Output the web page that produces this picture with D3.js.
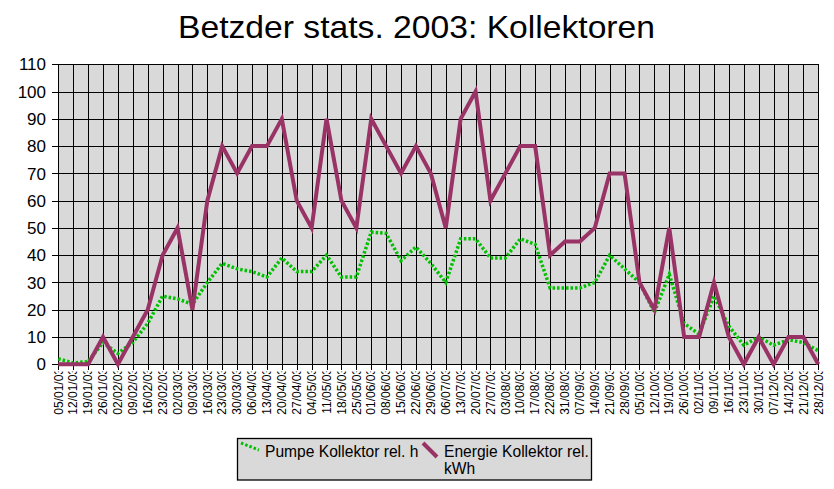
<!DOCTYPE html>
<html>
<head>
<meta charset="utf-8">
<script src="https://cdn.jsdelivr.net/npm/d3@7/dist/d3.min.js"></script>
<style>
  html, body { margin: 0; padding: 0; background: #fff; }
  svg { display: block; font-family: "Liberation Sans", Arial, sans-serif; }
</style>
</head>
<body>
<svg id="chart" width="834" height="489"></svg>
<script>
const dates = ["05/01/03","12/01/03","19/01/03","26/01/03","02/02/03","09/02/03","16/02/03","23/02/03",
  "02/03/03","09/03/03","16/03/03","23/03/03","30/03/03","06/04/03","13/04/03","20/04/03","27/04/03",
  "04/05/03","11/05/03","18/05/03","25/05/03","01/06/03","08/06/03","15/06/03","22/06/03","29/06/03",
  "06/07/03","13/07/03","20/07/03","27/07/03","03/08/03","10/08/03","17/08/03","22/08/03","31/08/03",
  "07/09/03","14/09/03","21/09/03","28/09/03","05/10/03","12/10/03","19/10/03","26/10/03",
  "02/11/03","09/11/03","16/11/03","23/11/03","30/11/03","07/12/03","14/12/03","21/12/03","28/12/03"];

const pumpe = [2,0.5,1,8,4,8,15,25,24,22,30,37,35,34,32,39,34,34,40,32,32,48.5,48,38,43,37,30,46,46,39,39,46,44,
  28,28,28,30,40,35,30,19,33,15,11,25,14,7,10,7,9,8,5];

const energie = [0,0,0,10,0,10,20,40,50,20,60,80,70,80,80,90,60,50,90,60,50,90,80,70,80,70,50,90,100,60,70,80,80,
  40,45,45,50,70,70,30,20,50,10,10,30,10,0,10,0,10,10,0];

const yTicks = [0,10,20,30,40,50,60,70,80,90,100,110];

const titleText = "Betzder stats. 2003: Kollektoren";
const legendPumpe = "Pumpe Kollektor rel. h";
const legendEnergie1 = "Energie Kollektor rel.";
const legendEnergie2 = "kWh";

const svg = d3.select("#chart");
const L = 58.3, R = 818.3, T = 64.3, B = 364.3;

const x = d3.scalePoint().domain(dates).range([L, R]);
const y = d3.scaleLinear().domain([0, 110]).range([B, T]);

// title
svg.append("text").attr("x", 416.5).attr("y", 38).attr("text-anchor", "middle")
  .attr("font-size", 32).attr("textLength", 477).attr("lengthAdjust", "spacingAndGlyphs")
  .attr("fill", "#000").text(titleText);

// plot background
svg.append("rect").attr("x", L).attr("y", T).attr("width", R - L).attr("height", B - T)
  .attr("fill", "#d9d9d9");

// grid
const g = svg.append("g").attr("shape-rendering", "crispEdges");
g.selectAll(".hg").data(yTicks).join("line")
  .attr("x1", L - 6).attr("x2", R).attr("y1", d => Math.round(y(d)) + 0.5).attr("y2", d => Math.round(y(d)) + 0.5)
  .attr("stroke", "#000").attr("stroke-width", 1);
g.selectAll(".vg").data(dates).join("line")
  .attr("x1", d => Math.round(x(d)) + 0.5).attr("x2", d => Math.round(x(d)) + 0.5)
  .attr("y1", T).attr("y2", B + 6)
  .attr("stroke", "#000").attr("stroke-width", 1);
svg.append("rect").attr("x", Math.round(L) + 0.5).attr("y", Math.round(T) + 0.5)
  .attr("width", Math.round(R) - Math.round(L)).attr("height", Math.round(B) - Math.round(T))
  .attr("fill", "none").attr("stroke", "#000").attr("stroke-width", 1).attr("shape-rendering", "crispEdges");

// y labels
svg.selectAll(".yl").data(yTicks).join("text")
  .attr("x", 46).attr("y", d => y(d)).attr("dy", "0.36em").attr("text-anchor", "end")
  .attr("font-size", 17).attr("fill", "#000").text(d => d);

// x labels (clipped as in original)
svg.append("clipPath").attr("id", "xclip").append("rect")
  .attr("x", 0).attr("y", 371.5).attr("width", 834).attr("height", 60);
const xl = svg.append("g").attr("clip-path", "url(#xclip)");
xl.selectAll("text").data(dates).join("text")
  .attr("transform", d => `translate(${x(d) + 4.2},${368}) rotate(-90)`)
  .attr("text-anchor", "end").attr("font-size", 12).attr("fill", "#000").text(d => d);

// lines
const line = d3.line().x((d, i) => x(dates[i])).y(d => y(d));
svg.append("path").datum(pumpe).attr("d", line).attr("fill", "none")
  .attr("stroke", "#00c000").attr("stroke-width", 3.5).attr("stroke-dasharray", "2.5,2");
svg.append("path").datum(energie).attr("d", line).attr("fill", "none")
  .attr("stroke", "#993366").attr("stroke-width", 4).attr("stroke-linejoin", "miter");

// legend
const lg = svg.append("g");
lg.append("rect").attr("x", 237.5).attr("y", 438.5).attr("width", 354).attr("height", 41.5)
  .attr("fill", "#d9d9d9").attr("stroke", "#000").attr("stroke-width", 1.3);
lg.append("line").attr("x1", 241).attr("y1", 443).attr("x2", 259).attr("y2", 450)
  .attr("stroke", "#00c000").attr("stroke-width", 3).attr("stroke-dasharray", "2.5,2");
lg.append("text").attr("x", 265).attr("y", 457).attr("font-size", 15.6).attr("fill", "#000").text(legendPumpe);
lg.append("line").attr("x1", 423).attr("y1", 443).attr("x2", 437).attr("y2", 457)
  .attr("stroke", "#993366").attr("stroke-width", 4);
lg.append("text").attr("x", 444).attr("y", 457).attr("font-size", 15.6).attr("fill", "#000").text(legendEnergie1);
lg.append("text").attr("x", 444).attr("y", 474).attr("font-size", 15.6).attr("fill", "#000").text(legendEnergie2);
</script>
</body>
</html>
